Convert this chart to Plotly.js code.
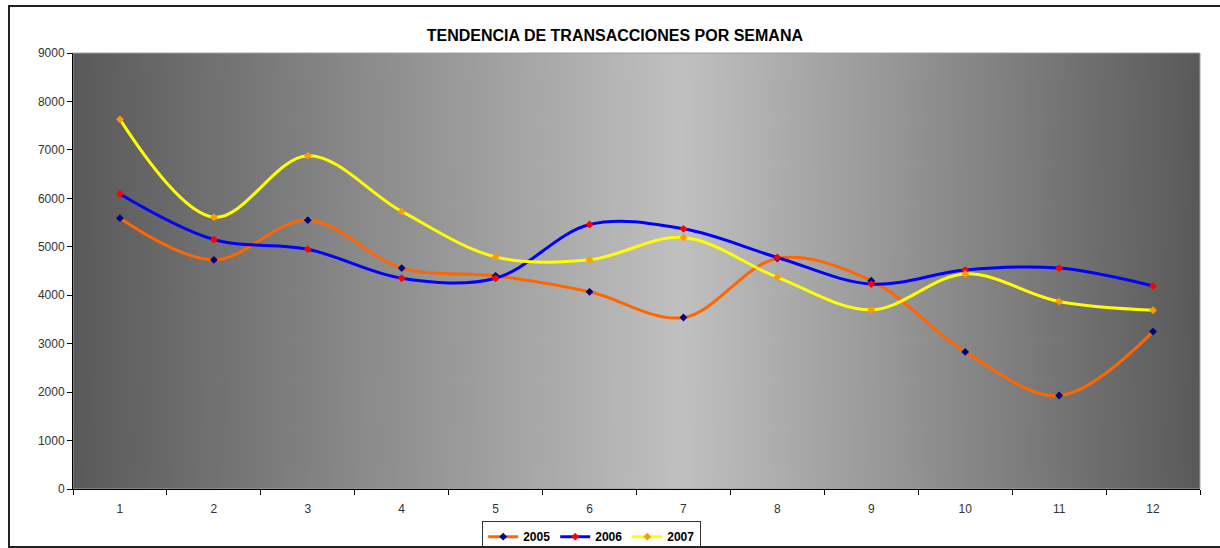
<!DOCTYPE html>
<html>
<head>
<meta charset="utf-8">
<script src="https://cdn.plot.ly/plotly-3.0.1.min.js"></script>
<style>
html,body{margin:0;padding:0;background:#fff;overflow:hidden;}
#wrap{position:relative;width:1220px;height:548px;}
#chart{position:absolute;left:0;top:0;width:1220px;height:548px;}
#frame{position:absolute;left:8px;top:5px;width:1230px;height:539px;border:2px solid #222;pointer-events:none;}
</style>
</head>
<body>
<div id="wrap"><div id="chart"></div><div id="frame"></div></div>
<script>
var weeks = ['1','2','3','4','5','6','7','8','9','10','11','12'];
var s2005 = [5590, 4730, 5550, 4560, 4400, 4070, 3540, 4760, 4300, 2830, 1930, 3250];
var s2006 = [6090, 5150, 4950, 4350, 4350, 5460, 5370, 4780, 4230, 4520, 4560, 4190];
var s2007 = [7630, 5610, 6880, 5730, 4790, 4730, 5190, 4370, 3700, 4440, 3870, 3690];
var seriesNames = ['2005', '2006', '2007'];

// horizontal gradient background image
var cv = document.createElement('canvas');
cv.width = 1127; cv.height = 10;
var ctx = cv.getContext('2d');
var g = ctx.createLinearGradient(0, 0, 1127, 0);
g.addColorStop(0, '#595959');
g.addColorStop(0.54, '#c0c0c0');
g.addColorStop(1, '#595959');
ctx.fillStyle = g; ctx.fillRect(0, 0, 1127, 10);
var bg = cv.toDataURL('image/png');

function tr(name, y, lc, mc) {
  return {
    x: weeks, y: y, name: name, type: 'scatter', mode: 'lines+markers',
    line: {color: lc, width: 3, shape: 'spline', smoothing: 1},
    marker: {symbol: 'diamond', size: 6, color: mc, line: {width: 0}}
  };
}
var data = [
  tr(seriesNames[0], s2005, '#FF6600', '#000080'),
  tr(seriesNames[1], s2006, '#0000FF', '#FF0000'),
  tr(seriesNames[2], s2007, '#FFFF00', '#FF9900')
];
var layout = {
  width: 1220, height: 548,
  margin: {l: 73, r: 20, t: 53, b: 59},
  paper_bgcolor: '#ffffff',
  plot_bgcolor: 'rgba(0,0,0,0)',
  font: {family: 'Liberation Sans, Arial, sans-serif', size: 12, color: '#333'},
  title: {text: '<b>TENDENCIA DE TRANSACCIONES POR SEMANA</b>', x: 0.504, xanchor: 'center', y: 0.935, yanchor: 'middle',
          font: {family: 'Liberation Sans, Arial, sans-serif', size: 16, color: '#000'}},
  xaxis: {type: 'category', range: [-0.5, 11.5], tickson: 'boundaries', ticks: 'outside', ticklen: 5,
          tickcolor: '#000', showline: true, linecolor: '#000', linewidth: 1, showgrid: false, zeroline: false,
          ticklabelstandoff: 9, automargin: false,
          tickfont: {size: 12, color: '#333'}, fixedrange: true},
  yaxis: {range: [0, 9000], dtick: 1000, ticks: 'outside', ticklen: 5, tickcolor: '#000',
          showline: true, linecolor: '#000', linewidth: 1, showgrid: false, zeroline: false, automargin: false,
          tickfont: {size: 12, color: '#333'}, fixedrange: true},
  images: [{source: bg, xref: 'paper', yref: 'paper', x: 0, y: 1, sizex: 1, sizey: 1,
            xanchor: 'left', yanchor: 'top', sizing: 'stretch', layer: 'below'}],
  shapes: [{type: 'rect', xref: 'paper', yref: 'paper', x0: 0, x1: 1, y0: 0, y1: 1,
            line: {color: '#a0a0a0', width: 1}, layer: 'below'}],
  legend: {orientation: 'h', xref: 'container', yref: 'container', x: 0.485, xanchor: 'center', y: 0.049, yanchor: 'top',
           bgcolor: '#ffffff', bordercolor: '#333', borderwidth: 1,
           font: {size: 12, color: '#000', family: 'Liberation Sans, Arial, sans-serif', weight: 'bold'},
           tracegroupgap: 0},
  showlegend: true
};
Plotly.newPlot('chart', data, layout, {displayModeBar: false, staticPlot: true});
</script>
</body>
</html>
